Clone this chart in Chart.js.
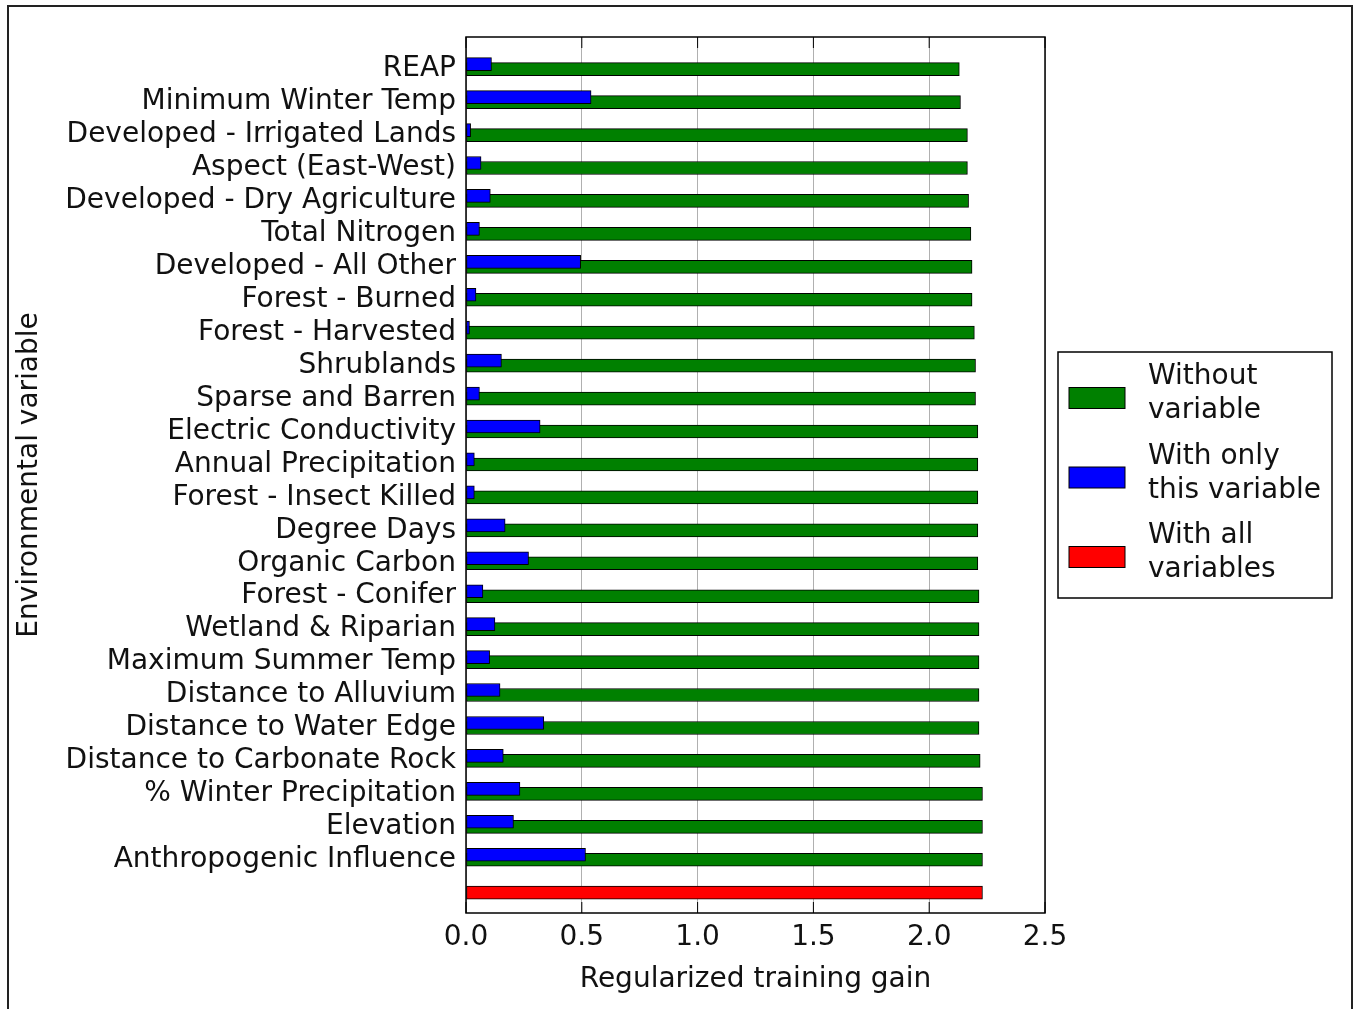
<!DOCTYPE html>
<html>
<head>
<meta charset="utf-8">
<script src="https://cdn.jsdelivr.net/npm/chart.js@4.4.0/dist/chart.umd.min.js"></script>
<style>
  html, body { margin: 0; padding: 0; background: #fff; overflow: hidden; }
  #wrap { position: relative; width: 1354px; height: 1009px; }
  #frame { position: absolute; left: 7px; top: 5px; width: 1346px; height: 1100px; border: 2px solid #222; box-sizing: border-box; pointer-events: none; }
</style>
</head>
<body>
<div id="wrap">
  <canvas id="chart"></canvas>
  <div id="frame"></div>
</div>
<script>
const variables = [
    "REAP", "Minimum Winter Temp", "Developed - Irrigated Lands", "Aspect (East-West)",
    "Developed - Dry Agriculture", "Total Nitrogen", "Developed - All Other", "Forest - Burned",
    "Forest - Harvested", "Shrublands", "Sparse and Barren", "Electric Conductivity",
    "Annual Precipitation", "Forest - Insect Killed", "Degree Days", "Organic Carbon",
    "Forest - Conifer", "Wetland & Riparian", "Maximum Summer Temp", "Distance to Alluvium",
    "Distance to Water Edge", "Distance to Carbonate Rock", "% Winter Precipitation",
    "Elevation", "Anthropogenic Influence",
];
const withoutVar = [
    2.13, 2.135, 2.165, 2.165, 2.17, 2.18, 2.185, 2.185, 2.195, 2.2, 2.2, 2.21, 2.21,
    2.21, 2.21, 2.21, 2.215, 2.215, 2.215, 2.215, 2.215, 2.22, 2.23, 2.23, 2.23,
];
const onlyVar = [
    0.11, 0.54, 0.02, 0.065, 0.105, 0.058, 0.495, 0.043, 0.015, 0.153, 0.058, 0.32, 0.036,
    0.036, 0.169, 0.27, 0.073, 0.125, 0.102, 0.147, 0.336, 0.161, 0.233, 0.205, 0.516,
];
const allVars = 2.23;
const legendLabels = [["Without", "variable"], ["With only", "this variable"], ["With all", "variables"]];

const FONT = "'DejaVu Sans', sans-serif";
Chart.defaults.font.family = FONT;
Chart.defaults.font.size = 28;
Chart.defaults.color = "#111";

const colors = ["#008000", "#0000ff", "#ff0000"];

// box round the plot, inward ticks, and a matplotlib style legend
const axesBox = {
    id: "axesBox",
    afterDatasetsDraw(chart) {
        const { ctx, chartArea: a, scales } = chart;
        ctx.save();
        ctx.strokeStyle = "#000";
        ctx.lineWidth = 1;
        scales.x.ticks.forEach((t) => {
            const px = scales.x.getPixelForValue(t.value);
            ctx.beginPath();
            ctx.moveTo(px, a.bottom);
            ctx.lineTo(px, a.bottom - 11);
            ctx.moveTo(px, a.top);
            ctx.lineTo(px, a.top + 11);
            ctx.stroke();
        });
        ctx.lineWidth = 1.5;
        ctx.strokeRect(a.left, a.top, a.right - a.left, a.bottom - a.top);
        ctx.restore();
    },
    afterDraw(chart) {
        const { ctx, chartArea: a } = chart;
        const left = a.right + 13;
        const top = 352;
        ctx.save();
        ctx.fillStyle = "#fff";
        ctx.fillRect(left, top, 274, 246);
        ctx.strokeStyle = "#000";
        ctx.lineWidth = 1.5;
        ctx.strokeRect(left, top, 274, 246);
        ctx.font = "28px " + FONT;
        ctx.textBaseline = "middle";
        ctx.textAlign = "left";
        legendLabels.forEach((lines, k) => {
            const cy = top + 46 + k * 79.5;
            ctx.fillStyle = colors[k];
            ctx.fillRect(left + 11, cy - 10.5, 56, 21);
            ctx.lineWidth = 1;
            ctx.strokeRect(left + 11, cy - 10.5, 56, 21);
            ctx.fillStyle = "#111";
            lines.forEach((s, j) => {
                ctx.fillText(s, left + 90, cy - 21 + j * 34);
            });
        });
        ctx.restore();
    },
};

const ctx = document.getElementById("chart").getContext("2d");
const chart = new Chart(ctx, {
    type: "bar",
    data: {
        datasets: [
            {
                label: "Without variable",
                data: withoutVar.map((v, i) => ({ x: v, y: i })),
                backgroundColor: colors[0],
                yAxisID: "y",
                order: 1,
            },
            {
                label: "With only this variable",
                data: onlyVar.map((v, i) => ({ x: v, y: i })),
                backgroundColor: colors[1],
                yAxisID: "y2",
                order: 0,
            },
            {
                label: "With all variables",
                data: [{ x: allVars, y: variables.length }],
                backgroundColor: colors[2],
                yAxisID: "y",
                order: 1,
            },
        ],
    },
    options: {
        indexAxis: "y",
        responsive: true,
        maintainAspectRatio: false,
        animation: false,
        layout: { padding: { left: 8, top: 37, right: 309, bottom: 0 } },
        datasets: {
            bar: {
                grouped: false,
                borderColor: "#000",
                borderWidth: 1,
                borderSkipped: false,
                categoryPercentage: 1,
                barPercentage: 1,
                maxBarThickness: 13,
            },
        },
        scales: {
            x: {
                type: "linear",
                min: 0,
                max: 2.5,
                ticks: {
                    stepSize: 0.5,
                    padding: 8,
                    callback: (v) => v.toFixed(1),
                },
                grid: { color: "#b0b0b0", lineWidth: 1, drawTicks: false },
                border: { display: false },
                title: {
                    display: true,
                    text: "Regularized training gain",
                    padding: { top: 0, bottom: 12 },
                },
                afterFit: (scale) => { scale.height = 96; },
            },
            y: {
                type: "linear",
                reverse: true,
                offset: false,
                bounds: "data",
                min: -0.977,
                max: 25.617,
                afterBuildTicks: (scale) => {
                    scale.ticks = variables.map((_, i) => ({ value: i }));
                },
                ticks: {
                    padding: 10,
                    autoSkip: false,
                    callback: (v) => variables[v],
                },
                grid: { display: false, drawTicks: false, offset: false },
                border: { display: false },
                title: {
                    display: true,
                    text: "Environmental variable",
                    padding: { top: 5, bottom: 0 },
                },
                afterFit: (scale) => { scale.width = 458; },
            },
            y2: {
                type: "linear",
                display: false,
                reverse: true,
                offset: false,
                bounds: "data",
                min: -0.977 + 0.152,
                max: 25.617 + 0.152,
            },
        },
        plugins: {
            legend: { display: false },
            tooltip: { enabled: false },
        },
    },
    plugins: [axesBox],
});
</script>
</body>
</html>
